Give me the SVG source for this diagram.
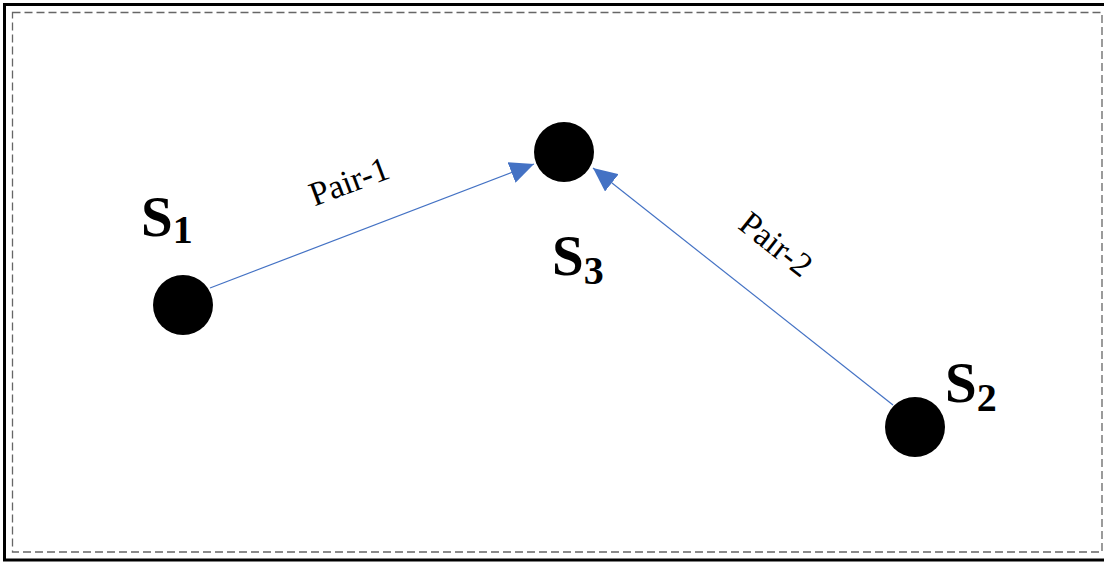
<svg xmlns="http://www.w3.org/2000/svg" width="1104" height="564" viewBox="0 0 1104 564">
<style>
.node{fill:#000}
.lbl{font-family:"Liberation Serif","Times New Roman",serif;font-weight:bold;font-size:57px;fill:#000}
.sub{font-size:40px}
.edge{stroke:#4472C4;stroke-width:1.2;fill:none}
.elbl{font-family:"Liberation Serif","Times New Roman",serif;font-size:34px;fill:#000}
</style>
<defs>
<marker id="arr" viewBox="0 0 24 22" refX="24" refY="11" markerWidth="24" markerHeight="22" markerUnits="userSpaceOnUse" orient="auto">
<path d="M0,0 L24,11 L0,22 Z" fill="#4472C4"/>
</marker>
</defs>
<rect x="0" y="0" width="1104" height="564" fill="#fff"/>
<rect x="4.5" y="4.5" width="1104" height="555.5" fill="none" stroke="#000" stroke-width="3"/>
<rect x="12.5" y="12.5" width="1089.5" height="539.5" fill="none" stroke="#666" stroke-width="1.3" stroke-dasharray="8,4"/>
<g id="connectors">
<line class="edge" x1="210" y1="288" x2="534" y2="164" marker-end="url(#arr)"/>
<line class="edge" x1="893" y1="405" x2="593" y2="168" marker-end="url(#arr)"/>
<text class="elbl" transform="translate(353,192) rotate(-20.6)" text-anchor="middle">Pair-1</text>
<text class="elbl" transform="translate(769,253) rotate(38.3)" text-anchor="middle">Pair-2</text>
</g>
<g id="S1">
<circle class="node" cx="183" cy="305" r="30"/>
<text class="lbl" x="141" y="236">S<tspan class="sub" dy="7">1</tspan></text>
</g>
<g id="S3">
<circle class="node" cx="564" cy="152" r="30"/>
<text class="lbl" x="552" y="275">S<tspan class="sub" dy="9">3</tspan></text>
</g>
<g id="S2">
<circle class="node" cx="915" cy="427" r="30"/>
<text class="lbl" x="945" y="402">S<tspan class="sub" dy="9">2</tspan></text>
</g>
</svg>
